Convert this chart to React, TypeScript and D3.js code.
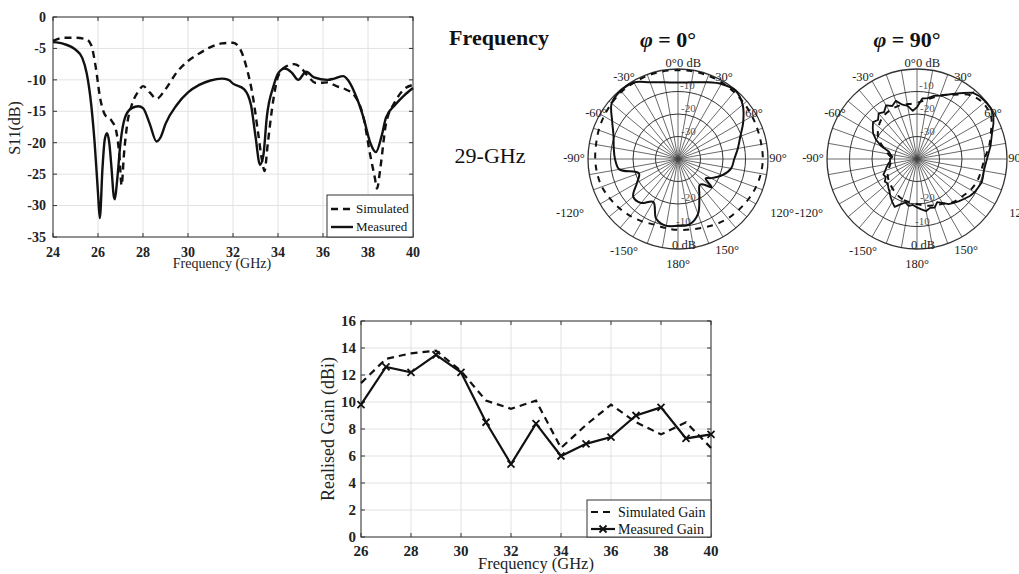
import React from 'react';
import * as d3 from 'd3';

const SERIF = '"Liberation Serif", "Times New Roman", Times, serif';

// S11 of the antenna, simulated vs measured
const s11SimFreq = [24, 24.5, 25, 25.5, 25.7, 25.9, 26.1, 26.3, 26.6, 26.8, 26.95, 27.05, 27.15, 27.3, 27.5, 27.8, 28, 28.3, 28.6, 29, 29.5, 30, 30.5, 31, 31.5, 32, 32.3, 32.6, 32.9, 33.1, 33.3, 33.4, 33.55, 33.8, 34, 34.3, 34.7, 35, 35.3, 35.7, 36.2, 36.6, 37, 37.4, 37.8, 38.1, 38.3, 38.4, 38.55, 38.8, 39.2, 39.6, 40];
const s11SimDb = [-3.8, -3.3, -3.3, -3.6, -4.5, -8, -13, -15.5, -16.5, -18, -22, -26.8, -22, -17, -14, -11.8, -11, -12, -13, -11.5, -8.8, -7, -5.8, -4.8, -4.2, -4.1, -5, -8, -13, -18, -23, -24.5, -20, -13, -9.5, -8, -7.5, -8, -9.3, -10.5, -10.4, -11, -11.5, -12.5, -16, -22, -25.5, -27.3, -24, -17, -13.5, -11.5, -10.8];
const s11MeasFreq = [24, 24.5, 25, 25.3, 25.5, 25.7, 25.85, 26.0, 26.08, 26.2, 26.3, 26.4, 26.5, 26.6, 26.7, 26.75, 26.85, 27.0, 27.2, 27.5, 27.8, 28.0, 28.3, 28.6, 28.8, 29.0, 29.5, 30.0, 30.5, 31.0, 31.5, 31.8, 32.0, 32.5, 32.8, 33.0, 33.2, 33.35, 33.5, 33.8, 34.0, 34.3, 34.6, 34.9, 35.25, 35.6, 36.2, 36.5, 36.9, 37.1, 37.4, 37.8, 38.1, 38.35, 38.6, 38.8, 39.2, 39.6, 40];
const s11MeasDb = [-4.0, -4.3, -5.2, -6.5, -9, -14, -20, -28, -32, -24, -19.5, -18.5, -20, -24, -28.5, -29, -26, -20, -16, -14.5, -14.2, -14.5, -17, -19.8, -19, -17, -14, -12, -10.8, -10.1, -9.8, -10, -10.6, -11.5, -14, -19, -23.5, -22, -16, -11, -9, -8.2, -8.8, -10, -8.7, -9.6, -10, -9.8, -9.4, -10, -12, -16, -20, -21.5, -19, -16, -14, -12.5, -11.3];
const s11XTicks = [24, 26, 28, 30, 32, 34, 36, 38, 40];
const s11YTicks = [0, -5, -10, -15, -20, -25, -30, -35];

// realised gain
const gainFreq = [26, 27, 28, 29, 30, 31, 32, 33, 34, 35, 36, 37, 38, 39, 40];
const gainSim = [11.4, 13.2, 13.6, 13.8, 12.3, 10.1, 9.5, 10.1, 6.6, 8.3, 9.8, 8.5, 7.6, 8.5, 6.6];
const gainMeas = [9.8, 12.6, 12.2, 13.5, 12.2, 8.5, 5.4, 8.4, 6.0, 6.9, 7.4, 9.0, 9.6, 7.3, 7.6];
const gainXTicks = [26, 28, 30, 32, 34, 36, 38, 40];
const gainYTicks = [0, 2, 4, 6, 8, 10, 12, 14, 16];

// radiation patterns at 29 GHz (angle in deg, normalised dB)
const phi0MeasAng = [-180, -170, -160, -150, -140, -130, -120, -110, -100, -90, -80, -70, -60, -50, -40, -30, -20, -10, 0, 10, 20, 30, 40, 50, 60, 70, 80, 90, 100, 110, 120, 125, 130, 135, 140, 150, 160, 170];
const phi0MeasDb = [-10.4, -9.8, -11.7, -18, -14.5, -14, -19, -21.5, -13.5, -12, -11, -9.5, -6.2, -1.5, -0.4, -0.7, -3.7, -5.4, -6, -5.4, -3.7, -1.5, -0.3, -2.5, -6.5, -10.5, -13, -15, -16, -19, -23, -25, -20.5, -24, -25, -21, -14, -10.5];
const phi0SimAng = [-180, -170, -160, -150, -140, -130, -120, -110, -100, -90, -80, -70, -60, -50, -40, -30, -20, -10, 0, 10, 20, 30, 40, 50, 60, 70, 80, 90, 100, 110, 120, 130, 140, 150, 160, 170];
const phi0SimDb = [-8.5, -8.8, -9, -8, -7, -6, -5, -4, -3.5, -3.2, -3, -2.5, -2, -1.5, -1, -0.8, -0.6, -0.5, -0.5, -0.5, -0.6, -0.8, -1.2, -1.6, -2, -2.3, -2.4, -2.3, -2.6, -3.2, -4, -4.8, -5.5, -6.5, -7.5, -8.2];

const phi90MeasAng = [-180, -175, -170, -165, -160, -155, -150, -145, -140, -135, -130, -125, -120, -115, -110, -105, -100, -95, -90, -85, -80, -75, -70, -65, -60, -55, -50, -45, -40, -35, -30, -25, -20, -15, -10, -5, 0, 5, 10, 15, 20, 25, 30, 35, 40, 45, 50, 55, 60, 65, 70, 75, 80, 85, 90, 95, 100, 105, 110, 115, 120, 125, 130, 135, 140, 145, 150, 155, 160, 165, 170, 175];
const phi90MeasDb = [-18.5, -19.5, -18.8, -20, -18.5, -16.5, -18, -19.5, -21, -22, -23, -22.5, -24, -23.5, -25, -26, -27, -28, -28, -29, -28, -27, -23, -20, -17.5, -16, -14.5, -15.5, -13.5, -14.5, -12.5, -14, -12.5, -15, -16, -18.5, -17, -13, -12.5, -11, -10, -8.5, -6.5, -4.2, -1.5, -0.6, -0.3, -0.2, -0.8, -2.5, -4.4, -5.8, -6.8, -8, -8.9, -9.5, -9.8, -9.6, -9.4, -10, -10.5, -11.3, -12.5, -13.5, -14.5, -15.5, -17.5, -18.8, -17, -17.5, -16.5, -17.5];
const phi90SimAng = [-180, -160, -140, -120, -100, -90, -80, -60, -40, -20, 0, 20, 30, 40, 50, 60, 70, 80, 90, 100, 110, 120, 130, 140, 150, 160, 170];
const phi90SimDb = [-20, -21, -23, -25, -28, -29, -27, -20, -16, -15, -15, -10, -7, -3, -1.5, -2, -5, -7.5, -10, -11, -11.5, -12.5, -14, -15, -17, -18, -19];

const polarRings = [-30, -20, -10, 0];
const polarAngleLabels = [
  { t: '-30°', dx: -54, dy: -82 }, { t: '30°', dx: 46, dy: -82 },
  { t: '-60°', dx: -82, dy: -46 }, { t: '60°', dx: 76, dy: -46 },
  { t: '-90°', dx: -104, dy: -1 }, { t: '90°', dx: 100, dy: -1 },
  { t: '-120°', dx: -108, dy: 54 }, { t: '120°', dx: 104, dy: 54 },
  { t: '-150°', dx: -54, dy: 92 }, { t: '150°', dx: 49, dy: 91 },
  { t: '180°', dx: 0, dy: 105 }, { t: '0°', dx: -7, dy: -96 },
];

const Frame = ({ x, y, xTicks, yTicks, fs, xLabY, yLabX }) => {
  const [x0, x1] = x.range();
  const [yb, yt] = y.range();
  return (
    <g fontFamily={SERIF} fontSize={fs} fontWeight="bold" fill="#222">
      {xTicks.map(t => <line key={'gx' + t} x1={x(t)} x2={x(t)} y1={yt} y2={yb} stroke="#e2e2e2" />)}
      {yTicks.map(t => <line key={'gy' + t} x1={x0} x2={x1} y1={y(t)} y2={y(t)} stroke="#e2e2e2" />)}
      <rect x={x0} y={yt} width={x1 - x0} height={yb - yt} fill="none" stroke="#333" />
      {xTicks.map(t => (
        <g key={'tx' + t} stroke="#333">
          <line x1={x(t)} x2={x(t)} y1={yb} y2={yb - 4} />
          <line x1={x(t)} x2={x(t)} y1={yt} y2={yt + 4} />
        </g>
      ))}
      {yTicks.map(t => (
        <g key={'ty' + t} stroke="#333">
          <line x1={x0} x2={x0 + 4} y1={y(t)} y2={y(t)} />
          <line x1={x1} x2={x1 - 4} y1={y(t)} y2={y(t)} />
        </g>
      ))}
      {xTicks.map(t => (
        <text key={'lx' + t} x={x(t)} y={xLabY} textAnchor="middle">{t}</text>
      ))}
      {yTicks.map(t => (
        <text key={'ly' + t} x={yLabX} y={y(t)} dy="0.35em" textAnchor="end">{t}</text>
      ))}
    </g>
  );
};

const S11Chart = () => {
  const x = d3.scaleLinear().domain([24, 40]).range([53, 413]);
  const y = d3.scaleLinear().domain([-35, 0]).range([237, 17]);
  const line = d3.line<[number, number]>().x(d => x(d[0])).y(d => y(d[1])).curve(d3.curveMonotoneX);
  const sim = line(d3.zip(s11SimFreq, s11SimDb) as [number, number][]);
  const meas = line(d3.zip(s11MeasFreq, s11MeasDb) as [number, number][]);
  return (
    <g>
      <Frame x={x} y={y} xTicks={s11XTicks} yTicks={s11YTicks} fs={14} xLabY={257} yLabX={46} />
      <path d={sim} fill="none" stroke="#111" strokeWidth={2.4} strokeDasharray="7,5" />
      <path d={meas} fill="none" stroke="#111" strokeWidth={2.4} />
      <text x={222} y={268} fontFamily={SERIF} fontSize={14} textAnchor="middle" fill="#222">Frequency (GHz)</text>
      <text transform="translate(20,128) rotate(-90)" fontFamily={SERIF} fontSize={16} textAnchor="middle" fill="#222">S11(dB)</text>
      <g fontFamily={SERIF} fontSize={13} fill="#111">
        <rect x={327} y={195} width={86} height={42} fill="#fff" stroke="#333" />
        <line x1={331} x2={353} y1={209} y2={209} stroke="#111" strokeWidth={2.4} strokeDasharray="7,5" />
        <text x={356} y={213}>Simulated</text>
        <line x1={331} x2={353} y1={227} y2={227} stroke="#111" strokeWidth={2.4} />
        <text x={356} y={231}>Measured</text>
      </g>
    </g>
  );
};

const GainChart = () => {
  const x = d3.scaleLinear().domain([26, 40]).range([361, 711]);
  const y = d3.scaleLinear().domain([0, 16]).range([537, 321]);
  const line = d3.line<number>().x((d, i) => x(gainFreq[i])).y(d => y(d));
  return (
    <g>
      <Frame x={x} y={y} xTicks={gainXTicks} yTicks={gainYTicks} fs={15} xLabY={556} yLabX={356} />
      <path d={line(gainSim)} fill="none" stroke="#111" strokeWidth={2.2} strokeDasharray="7,5" />
      <path d={line(gainMeas)} fill="none" stroke="#111" strokeWidth={2.2} />
      {gainMeas.map((v, i) => (
        <path key={i} d={`M${x(gainFreq[i]) - 3.5},${y(v) - 3.5}l7,7M${x(gainFreq[i]) - 3.5},${y(v) + 3.5}l7,-7`} stroke="#111" strokeWidth={1.8} />
      ))}
      <text x={536} y={569} fontFamily={SERIF} fontSize={16.5} textAnchor="middle" fill="#222">Frequency (GHz)</text>
      <text transform="translate(334,429) rotate(-90)" fontFamily={SERIF} fontSize={18} textAnchor="middle" fill="#222">Realised Gain (dBi)</text>
      <g fontFamily={SERIF} fontSize={14} fill="#111">
        <rect x={587} y={500} width={124} height={37} fill="#fff" stroke="#333" />
        <line x1={591} x2={615} y1={512} y2={512} stroke="#111" strokeWidth={2.2} strokeDasharray="7,5" />
        <text x={618} y={517}>Simulated Gain</text>
        <line x1={591} x2={615} y1={529} y2={529} stroke="#111" strokeWidth={2.2} />
        <path d="M599.5,525.5l7,7M599.5,532.5l7,-7" stroke="#111" strokeWidth={1.8} />
        <text x={618} y={534}>Measured Gain</text>
      </g>
    </g>
  );
};

const Polar = ({ cx, cy, title, measAng, measDb, simAng, simDb, jagged }) => {
  const R = 90;
  const r = d3.scaleLinear().domain([-40, 0]).range([0, R]).clamp(true);
  const mk = (angs: number[], curve) =>
    d3.lineRadial<number>().angle((d, i) => (angs[i] * Math.PI) / 180).radius(d => r(d)).curve(curve);
  const measPath = mk(measAng, jagged ? d3.curveLinearClosed : d3.curveCatmullRomClosed.alpha(0.5))(measDb);
  const simPath = mk(simAng, d3.curveCatmullRomClosed.alpha(0.5))(simDb);
  const spokes = d3.range(0, 360, 10);
  return (
    <g>
      <text x={cx - 10} y={cy - 112} fontFamily={SERIF} fontSize={22} fontWeight="bold" textAnchor="middle" fill="#111">
        <tspan fontStyle="italic">φ</tspan> = {title}°
      </text>
      <g transform={`translate(${cx},${cy})`}>
        {spokes.map(a => (
          <line key={a} x1={0} y1={0} x2={R * Math.sin((a * Math.PI) / 180)} y2={-R * Math.cos((a * Math.PI) / 180)} stroke="#444" strokeWidth={0.8} />
        ))}
        {polarRings.map(d => (
          <circle key={d} r={r(d)} fill="none" stroke="#333" strokeWidth={d === 0 ? 1.3 : 1} />
        ))}
        <g fontFamily={SERIF} fontSize={11} fill="#555">
          <text x={2} y={-r(-10) - 3}>-10</text>
          <text x={3} y={-r(-20) - 2}>-20</text>
          <text x={3} y={-r(-30) - 2}>-30</text>
          <text x={3} y={r(-20) - 3}>-20</text>
          <text x={-2} y={r(-10) - 2}>-10</text>
        </g>
        <path d={simPath} fill="none" stroke="#111" strokeWidth={2} strokeDasharray="6,6" />
        <path d={measPath} fill="none" stroke="#111" strokeWidth={jagged ? 1.8 : 2} strokeLinejoin="round" />
        <g fontFamily={SERIF} fontSize={12.5} fill="#222">
          {polarAngleLabels.map(l => (
            <text key={l.t} x={l.dx} y={l.dy} dy="0.35em" textAnchor="middle">{l.t}</text>
          ))}
          <text x={-1} y={-96} dy="0.35em">0 dB</text>
          <text x={-6} y={86} dy="0.35em">0 dB</text>
        </g>
      </g>
    </g>
  );
};

export default function App() {
  return (
    <svg width={1019} height={574} style={{ position: 'absolute', left: 0, top: 0, background: '#fff' }}>
      <rect width={1019} height={574} fill="#fff" />
      <S11Chart />
      <text x={499} y={45} fontFamily={SERIF} fontSize={22} fontWeight="bold" textAnchor="middle" fill="#111">Frequency</text>
      <text x={490} y={163} fontFamily={SERIF} fontSize={22} textAnchor="middle" fill="#111">29-GHz</text>
      <Polar cx={678} cy={159} title="0" measAng={phi0MeasAng} measDb={phi0MeasDb} simAng={phi0SimAng} simDb={phi0SimDb} jagged={false} />
      <Polar cx={917} cy={159} title="90" measAng={phi90MeasAng} measDb={phi90MeasDb} simAng={phi90SimAng} simDb={phi90SimDb} jagged={true} />
      <GainChart />
    </svg>
  );
}
